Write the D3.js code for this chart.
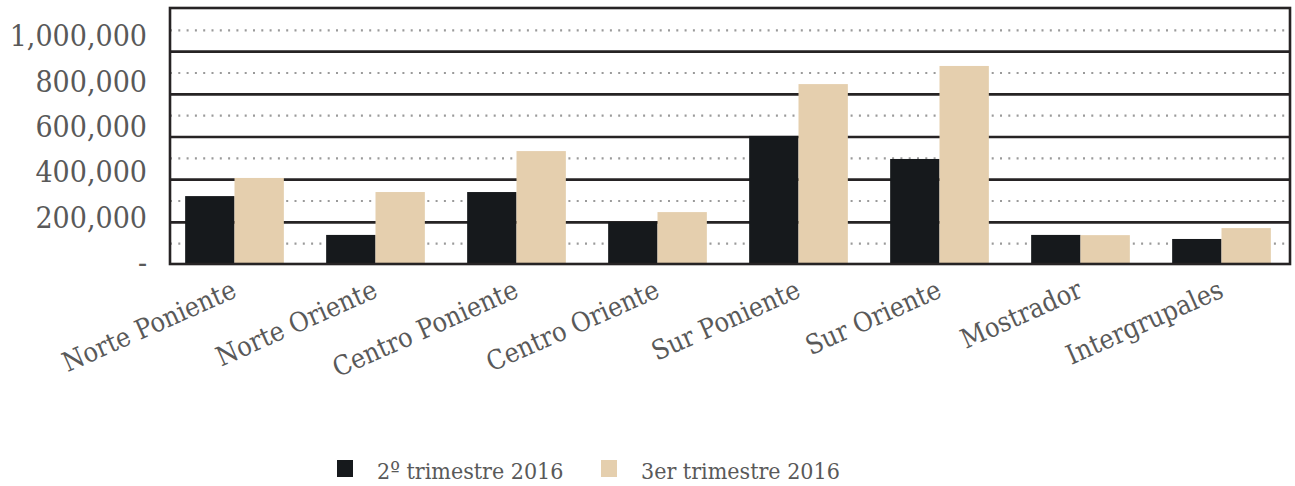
<!DOCTYPE html>
<meta charset="utf-8">
<style>
body { margin: 0; background: #fff; }
text { font-family: "DejaVu Serif Condensed", "DejaVu Serif", serif; font-stretch: condensed; fill: #595959; }
</style>
<body>
<script src="https://d3js.org/d3.v7.min.js"></script>
<script>

// data
var categories = ["Norte Poniente", "Norte Oriente", "Centro Poniente", "Centro Oriente",
                  "Sur Poniente", "Sur Oriente", "Mostrador", "Intergrupales"];
var series = ["2º trimestre 2016", "3er trimestre 2016"];
var q2 = [323000, 141000, 342000, 201000, 605000, 497000, 141000, 122000];
var q3 = [408000, 342000, 534000, 248000, 848000, 933000, 140000, 173000];
var tickValues = [0, 200000, 400000, 600000, 800000, 1000000];

var width = 1295, height = 486;
var plot = {left: 170, right: 1290, top: 8, bottom: 264};

var svg = d3.select("body").append("svg")
    .attr("width", width)
    .attr("height", height);

var x0 = d3.scaleBand()
    .domain(categories)
    .range([164, 1292])
    .paddingInner(0.3)
    .paddingOuter(0.15);

var x1 = d3.scaleBand()
    .domain(series)
    .range([0, x0.bandwidth()]);

var y = d3.scaleLinear()
    .domain([0, 1200000])
    .range([265, 9]);

// tick labels sit on a slightly different spacing than the gridlines
var yLabel = d3.scaleLinear()
    .domain([0, 1000000])
    .range([263, 36]);

var color = d3.scaleOrdinal()
    .domain(series)
    .range(["#16191c", "#e5cfae"]);

// dotted gridlines
svg.append("g")
  .selectAll("line")
    .data([100000, 300000, 500000, 700000, 900000, 1100000])
  .enter().append("line")
    .attr("x1", plot.left)
    .attr("x2", plot.right)
    .attr("y1", function(d) { return y(d); })
    .attr("y2", function(d) { return y(d); })
    .attr("stroke", "#9a9a9a")
    .attr("stroke-width", 2.2)
    .attr("stroke-dasharray", "2 6.3");

// solid gridlines
svg.append("g")
  .selectAll("line")
    .data([200000, 400000, 600000, 800000, 1000000])
  .enter().append("line")
    .attr("x1", plot.left)
    .attr("x2", plot.right)
    .attr("y1", function(d) { return y(d); })
    .attr("y2", function(d) { return y(d); })
    .attr("stroke", "#262324")
    .attr("stroke-width", 2.6);

// bars
var rows = categories.map(function(c, i) {
  return {cat: c, values: [{key: series[0], v: q2[i]}, {key: series[1], v: q3[i]}]};
});

svg.append("g")
  .selectAll("g")
    .data(rows)
  .enter().append("g")
    .attr("transform", function(d) { return "translate(" + x0(d.cat) + ",0)"; })
  .selectAll("rect")
    .data(function(d) { return d.values; })
  .enter().append("rect")
    .attr("x", function(d) { return x1(d.key); })
    .attr("width", x1.bandwidth())
    .attr("y", function(d) { return y(d.v); })
    .attr("height", function(d) { return y(0) - y(d.v); })
    .attr("fill", function(d) { return color(d.key); });

// plot border
svg.append("rect")
    .attr("x", plot.left)
    .attr("y", plot.top)
    .attr("width", plot.right - plot.left)
    .attr("height", plot.bottom - plot.top)
    .attr("fill", "none")
    .attr("stroke", "#262324")
    .attr("stroke-width", 2.6);

// y axis labels
var yAxis = svg.append("g")
    .attr("transform", "translate(147,0)")
    .call(d3.axisLeft(yLabel)
      .tickValues(tickValues)
      .tickSize(0)
      .tickPadding(0)
      .tickFormat(function(d) { return d === 0 ? "-" : d3.format(",")(d); }));
yAxis.select(".domain").remove();
yAxis.selectAll("text")
    .attr("fill", "#595959")
    .style("font-family", null)
    .style("font-size", "30px");

// x axis labels
var xAxis = svg.append("g")
    .attr("transform", "translate(0," + 298 + ")")
    .call(d3.axisBottom(x0).tickSize(0).tickPadding(0));
xAxis.select(".domain").remove();
xAxis.selectAll("text")
    .attr("fill", "#595959")
    .style("font-family", null)
    .style("font-size", "27px")
    .attr("text-anchor", "end")
    .attr("x", 4)
    .attr("y", 0)
    .attr("dy", 0)
    .attr("transform", "rotate(-24)");

// legend
var legend = svg.append("g")
  .selectAll("g")
    .data(series)
  .enter().append("g")
    .attr("transform", function(d, i) { return "translate(" + (337 + i * 264) + ",460)"; });

legend.append("rect")
    .attr("width", 16)
    .attr("height", 17)
    .attr("fill", function(d) { return color(d); });

legend.append("text")
    .attr("x", 40)
    .attr("y", 19)
    .style("font-size", "23px")
    .text(function(d) { return d; });

</script>
</body>
